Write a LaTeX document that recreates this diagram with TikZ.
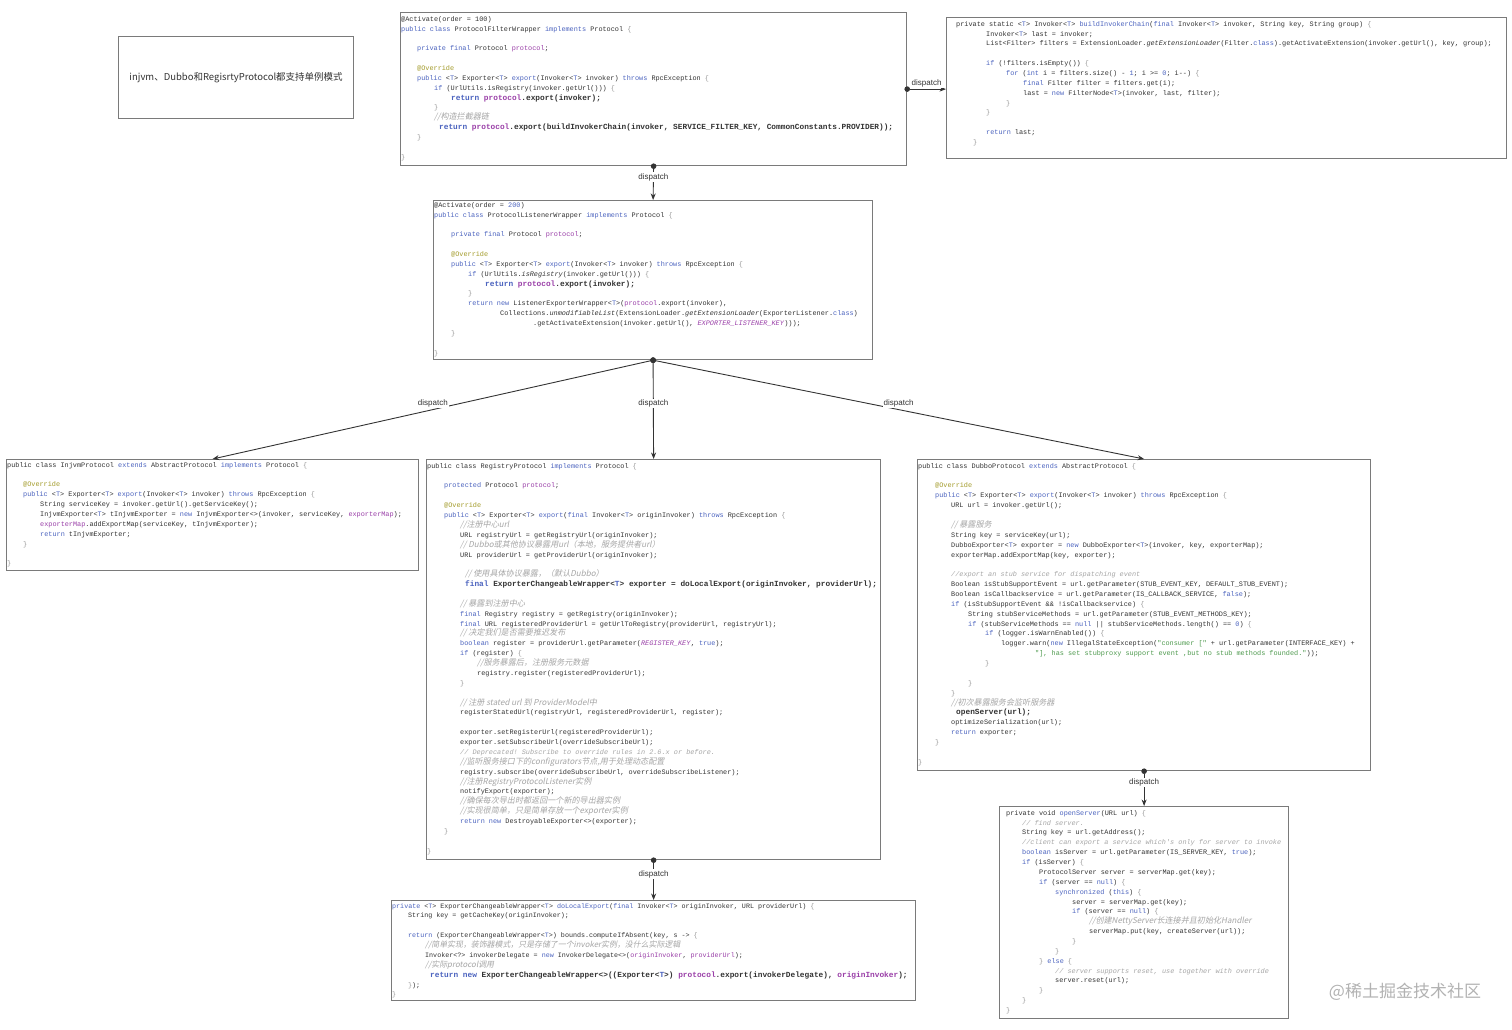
\documentclass[tikz,border=0pt]{standalone}
\usepackage{fontspec}
\setmainfont{Liberation Sans}
\setmonofont{Liberation Mono}
\newfontfamily\cjkup{Noto Sans CJK SC}
\newfontfamily\cjkit[FakeSlant=0.2,Scale=1.18]{Noto Sans CJK SC}
\usepackage{xcolor}
\usetikzlibrary{arrows.meta, positioning}

\definecolor{kwcol}{HTML}{4B63BF}
\definecolor{fdcol}{HTML}{9A3FA8}
\definecolor{ancol}{HTML}{A39B2A}
\definecolor{cmcol}{HTML}{A6A6A6}
\definecolor{stcol}{HTML}{4E9A4E}
\definecolor{brcol}{HTML}{9A9A9A}
\definecolor{txtcol}{HTML}{333333}
\definecolor{boxcol}{HTML}{7A7A7A}
\definecolor{linecol}{HTML}{333333}

\newcommand\ckw[1]{\textcolor{kwcol}{#1}}
\newcommand\cfd[1]{\textcolor{fdcol}{#1}}
\newcommand\can[1]{\textcolor{ancol}{#1}}
\newcommand\ccm[1]{\textcolor{cmcol}{\itshape #1}}
\newcommand\ccj[1]{\textcolor{cmcol}{\cjkit #1}}
\newcommand\cst[1]{\textcolor{stcol}{#1}}
\newcommand\lbr{\textcolor{brcol}{\{}}
\newcommand\rbr{\textcolor{brcol}{\}}}
\newcommand\gT{<\ckw{T}>}
\newcommand\hlb[1]{{\fontsize{7.8}{9.87}\selectfont\bfseries #1}}
\newcommand\cln[2]{\\\hspace*{#1pt}#2}

\begin{document}
\begin{tikzpicture}[x=1pt, y=-1pt,
    codebox/.style={draw=boxcol, line width=1.2pt, fill=white, anchor=north west, inner sep=0pt},
    code/.style={anchor=north west, inner sep=0pt, align=left, text=txtcol,
      font=\ttfamily\fontsize{6.85}{9.87}\selectfont},
    flow/.style={draw=linecol, line width=0.9pt,
      {Circle[length=5.5pt]}-{Stealth[length=6.5pt,width=5pt]}, shorten <=-2.75pt},
    lbl/.style={midway, yshift=6pt, fill=white, inner sep=1pt, text=txtcol,
      font=\fontsize{8}{9}\selectfont}]
  \useasboundingbox (0,0) rectangle (1512,1030);

  \node[codebox, minimum width=235pt, minimum height=82pt, text=txtcol,
    font=\cjkup\fontsize{9.5}{11}\selectfont] (note) at (118,36)
    {injvm、Dubbo和RegisrtyProtocol都支持单例模式};

  \node[codebox, minimum width=506pt, minimum height=153pt] (filter) at (400,12) {};
  \node[codebox, minimum width=560pt, minimum height=141pt] (build) at (946,17) {};
  \node[codebox, minimum width=439pt, minimum height=159pt] (listener) at (433,200) {};
  \node[codebox, minimum width=412pt, minimum height=111pt] (injvm) at (6,459) {};
  \node[codebox, minimum width=454pt, minimum height=400pt] (registry) at (426,459) {};
  \node[codebox, minimum width=453pt, minimum height=311pt] (dubbo) at (917,459) {};
  \node[codebox, minimum width=524pt, minimum height=100pt] (local) at (391,900) {};
  \node[codebox, minimum width=289pt, minimum height=212pt] (server) at (999,806) {};

  \node[code] (filter-code) at ([xshift=1pt,yshift=-4pt]filter.north west) {%
    @Activate(order = 100)%
    \cln{0}{\ckw{public class} ProtocolFilterWrapper \ckw{implements} Protocol \lbr}%
    \cln{0}{\mbox{}}%
    \cln{16}{\ckw{private final} Protocol \cfd{protocol};}%
    \cln{0}{\mbox{}}%
    \cln{16}{\can{@Override}}%
    \cln{16}{\ckw{public} \gT{} Exporter\gT{} \ckw{export}(Invoker\gT{} invoker) \ckw{throws} RpcException \lbr}%
    \cln{33}{\ckw{if} (UrlUtils.isRegistry(invoker.getUrl())) \lbr}%
    \cln{50}{\hlb{\ckw{return} \cfd{protocol}.export(invoker);}}%
    \cln{33}{\rbr}%
    \cln{33}{\ccj{//构造拦截器链}}%
    \cln{38}{\hlb{\ckw{return} \cfd{protocol}.export(buildInvokerChain(invoker, SERVICE\_FILTER\_KEY, CommonConstants.PROVIDER));}}%
    \cln{16}{\rbr}%
    \cln{0}{\mbox{}}%
    \cln{0}{\rbr}};

  \node[code] (build-code) at ([xshift=10pt,yshift=-4pt]build.north west) {%
    private static \gT{} Invoker\gT{} \ckw{buildInvokerChain}(\ckw{final} Invoker\gT{} invoker, String key, String group) \lbr%
    \cln{30}{Invoker\gT{} last = invoker;}%
    \cln{30}{List<Filter> filters = ExtensionLoader.\textit{getExtensionLoader}(Filter.\ckw{class}).getActivateExtension(invoker.getUrl(), key, group);}%
    \cln{0}{\mbox{}}%
    \cln{30}{\ckw{if} (!filters.isEmpty()) \lbr}%
    \cln{50}{\ckw{for} (\ckw{int} i = filters.size() - \ckw{1}; i >= \ckw{0}; i--) \lbr}%
    \cln{67}{\ckw{final} Filter filter = filters.get(i);}%
    \cln{67}{last = \ckw{new} FilterNode\gT{}(invoker, last, filter);}%
    \cln{50}{\rbr}%
    \cln{30}{\rbr}%
    \cln{0}{\mbox{}}%
    \cln{30}{\ckw{return} last;}%
    \cln{17}{\rbr}};

  \node[code] (listener-code) at ([xshift=1pt,yshift=-2pt]listener.north west) {%
    @Activate(order = \ckw{200})%
    \cln{0}{\ckw{public class} ProtocolListenerWrapper \ckw{implements} Protocol \lbr}%
    \cln{0}{\mbox{}}%
    \cln{17}{\ckw{private final} Protocol \cfd{protocol};}%
    \cln{0}{\mbox{}}%
    \cln{17}{\can{@Override}}%
    \cln{17}{\ckw{public} \gT{} Exporter\gT{} \ckw{export}(Invoker\gT{} invoker) \ckw{throws} RpcException \lbr}%
    \cln{34}{\ckw{if} (UrlUtils.\textit{isRegistry}(invoker.getUrl())) \lbr}%
    \cln{51}{\hlb{\ckw{return} \cfd{protocol}.export(invoker);}}%
    \cln{34}{\rbr}%
    \cln{34}{\ckw{return new} ListenerExporterWrapper\gT{}(\cfd{protocol}.export(invoker),}%
    \cln{66}{Collections.\textit{unmodifiableList}(ExtensionLoader.\textit{getExtensionLoader}(ExporterListener.\ckw{class})}%
    \cln{99}{.getActivateExtension(invoker.getUrl(), \cfd{\textit{EXPORTER\_LISTENER\_KEY}})));}%
    \cln{17}{\rbr}%
    \cln{0}{\mbox{}}%
    \cln{0}{\rbr}};

  \node[code] (injvm-code) at ([xshift=1pt,yshift=-3pt]injvm.north west) {%
    public class InjvmProtocol \ckw{extends} AbstractProtocol \ckw{implements} Protocol \lbr%
    \cln{0}{\mbox{}}%
    \cln{16}{\can{@Override}}%
    \cln{16}{\ckw{public} \gT{} Exporter\gT{} \ckw{export}(Invoker\gT{} invoker) \ckw{throws} RpcException \lbr}%
    \cln{33}{String serviceKey = invoker.getUrl().getServiceKey();}%
    \cln{33}{InjvmExporter\gT{} tInjvmExporter = \ckw{new} InjvmExporter<>(invoker, serviceKey, \cfd{exporterMap});}%
    \cln{33}{\cfd{exporterMap}.addExportMap(serviceKey, tInjvmExporter);}%
    \cln{33}{\ckw{return} tInjvmExporter;}%
    \cln{16}{\rbr}%
    \cln{0}{\mbox{}}%
    \cln{0}{\rbr}};

  \node[code] (registry-code) at ([xshift=1pt,yshift=-4pt]registry.north west) {%
    public class RegistryProtocol \ckw{implements} Protocol \lbr%
    \cln{0}{\mbox{}}%
    \cln{17}{\ckw{protected} Protocol \cfd{protocol};}%
    \cln{0}{\mbox{}}%
    \cln{17}{\can{@Override}}%
    \cln{17}{\ckw{public} \gT{} Exporter\gT{} \ckw{export}(\ckw{final} Invoker\gT{} originInvoker) \ckw{throws} RpcException \lbr}%
    \cln{33}{\ccj{//注册中心url}}%
    \cln{33}{URL registryUrl = getRegistryUrl(originInvoker);}%
    \cln{33}{\ccj{// Dubbo或其他协议暴露用url（本地，服务提供者url）}}%
    \cln{33}{URL providerUrl = getProviderUrl(originInvoker);}%
    \cln{0}{\mbox{}}%
    \cln{38}{\ccj{// 使用具体协议暴露，（默认Dubbo）}}%
    \cln{38}{\hlb{\ckw{final} ExporterChangeableWrapper\gT{} exporter = doLocalExport(originInvoker, providerUrl);}}%
    \cln{0}{\mbox{}}%
    \cln{33}{\ccj{// 暴露到注册中心}}%
    \cln{33}{\ckw{final} Registry registry = getRegistry(originInvoker);}%
    \cln{33}{\ckw{final} URL registeredProviderUrl = getUrlToRegistry(providerUrl, registryUrl);}%
    \cln{33}{\ccj{// 决定我们是否需要推迟发布}}%
    \cln{33}{\ckw{boolean} register = providerUrl.getParameter(\cfd{\textit{REGISTER\_KEY}}, \ckw{true});}%
    \cln{33}{\ckw{if} (register) \lbr}%
    \cln{50}{\ccj{//服务暴露后，注册服务元数据}}%
    \cln{50}{registry.register(registeredProviderUrl);}%
    \cln{33}{\rbr}%
    \cln{0}{\mbox{}}%
    \cln{33}{\ccj{// 注册 stated url 到 ProviderModel中}}%
    \cln{33}{registerStatedUrl(registryUrl, registeredProviderUrl, register);}%
    \cln{0}{\mbox{}}%
    \cln{33}{exporter.setRegisterUrl(registeredProviderUrl);}%
    \cln{33}{exporter.setSubscribeUrl(overrideSubscribeUrl);}%
    \cln{33}{\ccm{// Deprecated! Subscribe to override rules in 2.6.x or before.}}%
    \cln{33}{\ccj{//监听服务接口下的configurators节点,用于处理动态配置}}%
    \cln{33}{registry.subscribe(overrideSubscribeUrl, overrideSubscribeListener);}%
    \cln{33}{\ccj{//注册RegistryProtocolListener实例}}%
    \cln{33}{notifyExport(exporter);}%
    \cln{33}{\ccj{//确保每次导出时都返回一个新的导出器实例}}%
    \cln{33}{\ccj{//实现很简单，只是简单存放一个exporter实例}}%
    \cln{33}{\ckw{return new} DestroyableExporter<>(exporter);}%
    \cln{17}{\rbr}%
    \cln{0}{\mbox{}}%
    \cln{0}{\rbr}};

  \node[code] (dubbo-code) at ([xshift=1pt,yshift=-4pt]dubbo.north west) {%
    public class DubboProtocol \ckw{extends} AbstractProtocol \lbr%
    \cln{0}{\mbox{}}%
    \cln{17}{\can{@Override}}%
    \cln{17}{\ckw{public} \gT{} Exporter\gT{} \ckw{export}(Invoker\gT{} invoker) \ckw{throws} RpcException \lbr}%
    \cln{33}{URL url = invoker.getUrl();}%
    \cln{0}{\mbox{}}%
    \cln{33}{\ccj{// 暴露服务}}%
    \cln{33}{String key = serviceKey(url);}%
    \cln{33}{DubboExporter\gT{} exporter = \ckw{new} DubboExporter\gT{}(invoker, key, exporterMap);}%
    \cln{33}{exporterMap.addExportMap(key, exporter);}%
    \cln{0}{\mbox{}}%
    \cln{33}{\ccm{//export an stub service for dispatching event}}%
    \cln{33}{Boolean isStubSupportEvent = url.getParameter(STUB\_EVENT\_KEY, DEFAULT\_STUB\_EVENT);}%
    \cln{33}{Boolean isCallbackservice = url.getParameter(IS\_CALLBACK\_SERVICE, \ckw{false});}%
    \cln{33}{\ckw{if} (isStubSupportEvent \&\& !isCallbackservice) \lbr}%
    \cln{50}{String stubServiceMethods = url.getParameter(STUB\_EVENT\_METHODS\_KEY);}%
    \cln{50}{\ckw{if} (stubServiceMethods == \ckw{null} || stubServiceMethods.length() == \ckw{0}) \lbr}%
    \cln{67}{\ckw{if} (logger.isWarnEnabled()) \lbr}%
    \cln{83}{logger.warn(\ckw{new} IllegalStateException(\cst{"consumer ["} + url.getParameter(INTERFACE\_KEY) +}%
    \cln{117}{\cst{"], has set stubproxy support event ,but no stub methods founded."}));}%
    \cln{67}{\rbr}%
    \cln{0}{\mbox{}}%
    \cln{50}{\rbr}%
    \cln{33}{\rbr}%
    \cln{33}{\ccj{//初次暴露服务会监听服务器}}%
    \cln{38}{\hlb{openServer(url);}}%
    \cln{33}{optimizeSerialization(url);}%
    \cln{33}{\ckw{return} exporter;}%
    \cln{17}{\rbr}%
    \cln{0}{\mbox{}}%
    \cln{0}{\rbr}};

  \node[code, font=\ttfamily\fontsize{6.7}{9.87}\selectfont] (local-code) at ([xshift=1pt,yshift=-3pt]local.north west) {%
    \ckw{private} \gT{} ExporterChangeableWrapper\gT{} \ckw{doLocalExport}(\ckw{final} Invoker\gT{} originInvoker, URL providerUrl) \lbr%
    \cln{16}{String key = getCacheKey(originInvoker);}%
    \cln{0}{\mbox{}}%
    \cln{16}{\ckw{return} (ExporterChangeableWrapper\gT{}) bounds.computeIfAbsent(key, s -> \lbr}%
    \cln{33}{\ccj{//简单实现，装饰器模式，只是存储了一个invoker实例，没什么实际逻辑}}%
    \cln{33}{Invoker<?> invokerDelegate = \ckw{new} InvokerDelegate<>(\cfd{originInvoker}, \cfd{providerUrl});}%
    \cln{33}{\ccj{//实际protocol调用}}%
    \cln{38}{\hlb{\ckw{return new} ExporterChangeableWrapper<>((Exporter\gT{}) \cfd{protocol}.export(invokerDelegate), \cfd{originInvoker});}}%
    \cln{16}{\rbr);}%
    \cln{0}{\rbr}};

  \node[code] (server-code) at ([xshift=7pt,yshift=-4pt]server.north west) {%
    private void \ckw{openServer}(URL url) \lbr%
    \cln{16}{\ccm{// find server.}}%
    \cln{16}{String key = url.getAddress();}%
    \cln{16}{\ccm{//client can export a service which's only for server to invoke}}%
    \cln{16}{\ckw{boolean} isServer = url.getParameter(IS\_SERVER\_KEY, \ckw{true});}%
    \cln{16}{\ckw{if} (isServer) \lbr}%
    \cln{33}{ProtocolServer server = serverMap.get(key);}%
    \cln{33}{\ckw{if} (server == \ckw{null}) \lbr}%
    \cln{49}{\ckw{synchronized} (\ckw{this}) \lbr}%
    \cln{66}{server = serverMap.get(key);}%
    \cln{66}{\ckw{if} (server == \ckw{null}) \lbr}%
    \cln{83}{\ccj{//创建NettyServer长连接并且初始化Handler}}%
    \cln{83}{serverMap.put(key, createServer(url));}%
    \cln{66}{\rbr}%
    \cln{49}{\rbr}%
    \cln{33}{\rbr{} \ckw{else} \lbr}%
    \cln{49}{\ccm{// server supports reset, use together with override}}%
    \cln{49}{server.reset(url);}%
    \cln{33}{\rbr}%
    \cln{16}{\rbr}%
    \cln{0}{\rbr}};

  \draw[flow] (filter.south) -- (listener.north) node[lbl] (d-listener) {dispatch};
  \draw[flow] (filter.east) -- (build.west |- filter.east) node[lbl] (d-build) {dispatch};
  \draw[flow] (listener.south) -- (injvm.north) node[lbl] (d-injvm) {dispatch};
  \draw[flow] (listener.south) -- (registry.north) node[lbl] (d-registry) {dispatch};
  \draw[flow] (listener.south) -- (dubbo.north) node[lbl] (d-dubbo) {dispatch};
  \draw[flow] (dubbo.south) -- (server.north) node[lbl] (d-server) {dispatch};
  \draw[flow] (registry.south) -- (local.north) node[lbl] (d-local) {dispatch};

  \node[text=black!30, font=\cjkup\fontsize{17}{20}\selectfont] (mark) at (1405,992) {@稀土掘金技术社区};
\end{tikzpicture}
\end{document}
